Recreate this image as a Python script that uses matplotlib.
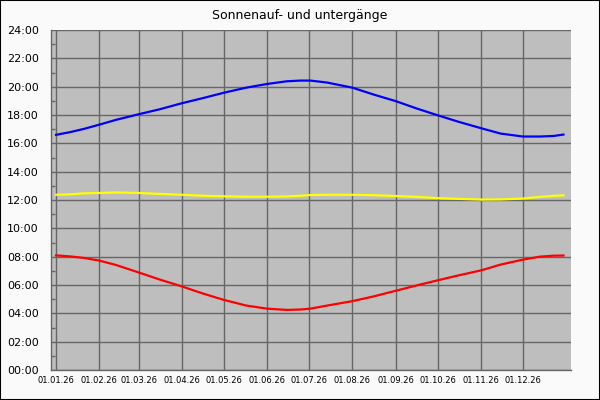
import matplotlib
matplotlib.use("Agg")
import matplotlib.pyplot as plt
from matplotlib.patches import Rectangle

# day of year (0 = 01.01.26) for sample points
days = [0, 10, 20, 31, 43, 59, 74, 90, 105, 120, 136, 151, 165, 175, 182,
        194, 212, 227, 243, 258, 273, 288, 304, 318, 334, 346, 356, 363]

# sunset (hours)
sunset = [16.60, 16.79, 17.02, 17.32, 17.66, 18.05, 18.40, 18.83, 19.19, 19.57,
          19.93, 20.19, 20.38, 20.43, 20.43, 20.29, 19.93, 19.45, 18.98, 18.46,
          17.98, 17.52, 17.07, 16.69, 16.48, 16.48, 16.52, 16.62]

# sunrise (hours)
sunrise = [8.09, 8.02, 7.91, 7.72, 7.41, 6.89, 6.39, 5.90, 5.40, 4.95,
           4.55, 4.33, 4.24, 4.27, 4.33, 4.55, 4.86, 5.19, 5.59, 5.97,
           6.33, 6.68, 7.03, 7.44, 7.79, 8.00, 8.07, 8.08]

# solar noon (hours)
noon = [12.37, 12.40, 12.47, 12.50, 12.53, 12.50, 12.43, 12.37, 12.30, 12.26,
        12.23, 12.23, 12.25, 12.30, 12.35, 12.37, 12.37, 12.34, 12.28, 12.22,
        12.13, 12.08, 12.03, 12.04, 12.10, 12.22, 12.29, 12.33]

month_starts = [0, 31, 59, 90, 120, 151, 181, 212, 243, 273, 304, 334]
month_labels = ["01.01.26", "01.02.26", "01.03.26", "01.04.26", "01.05.26", "01.06.26",
                "01.07.26", "01.08.26", "01.09.26", "01.10.26", "01.11.26", "01.12.26"]
hour_ticks = list(range(0, 25, 2))
hour_labels = ["%02d:00" % h for h in hour_ticks]

fig = plt.figure(figsize=(6, 4), dpi=100, facecolor="#fafafa")
ax = fig.add_axes([51/600, 1-370/400, 520/600, 340/400])
ax.set_facecolor("#bebebe")

ax.plot(days, sunset, color="#0000ff", lw=1.6, zorder=3)
ax.plot(days, noon, color="#ffff00", lw=1.6, zorder=3)
ax.plot(days, sunrise, color="#ff0000", lw=1.6, zorder=3)

ax.set_xlim(-3.6, 368.4)
ax.set_ylim(0, 24)
ax.set_xticks(month_starts)
ax.set_xticklabels(month_labels, fontsize=6)
ax.set_yticks(hour_ticks)
ax.set_yticklabels(hour_labels, fontsize=8)
ax.set_yticks(range(1, 24, 2), minor=True)
ax.tick_params(axis="both", which="major", length=0)
ax.tick_params(axis="y", which="major", pad=9)
ax.tick_params(axis="x", which="major", pad=4)
ax.tick_params(axis="y", which="minor", length=3, direction="in", color="#666666", width=1)
ax.grid(True, which="major", color="#666666", lw=1.0)
ax.set_axisbelow(True)
for s in ["top", "right"]:
    ax.spines[s].set_visible(False)
for s in ["left", "bottom"]:
    ax.spines[s].set_color("#666666")
    ax.spines[s].set_linewidth(1.0)

fig.text(0.5, 1-16/400, "Sonnenauf- und untergänge", ha="center", va="center", fontsize=9)
fig.patches.append(Rectangle((0, 0), 1, 1, transform=fig.transFigure, fill=False,
                             edgecolor="black", lw=1.5))

fig.savefig("out.png", dpi=100, facecolor=fig.get_facecolor())
